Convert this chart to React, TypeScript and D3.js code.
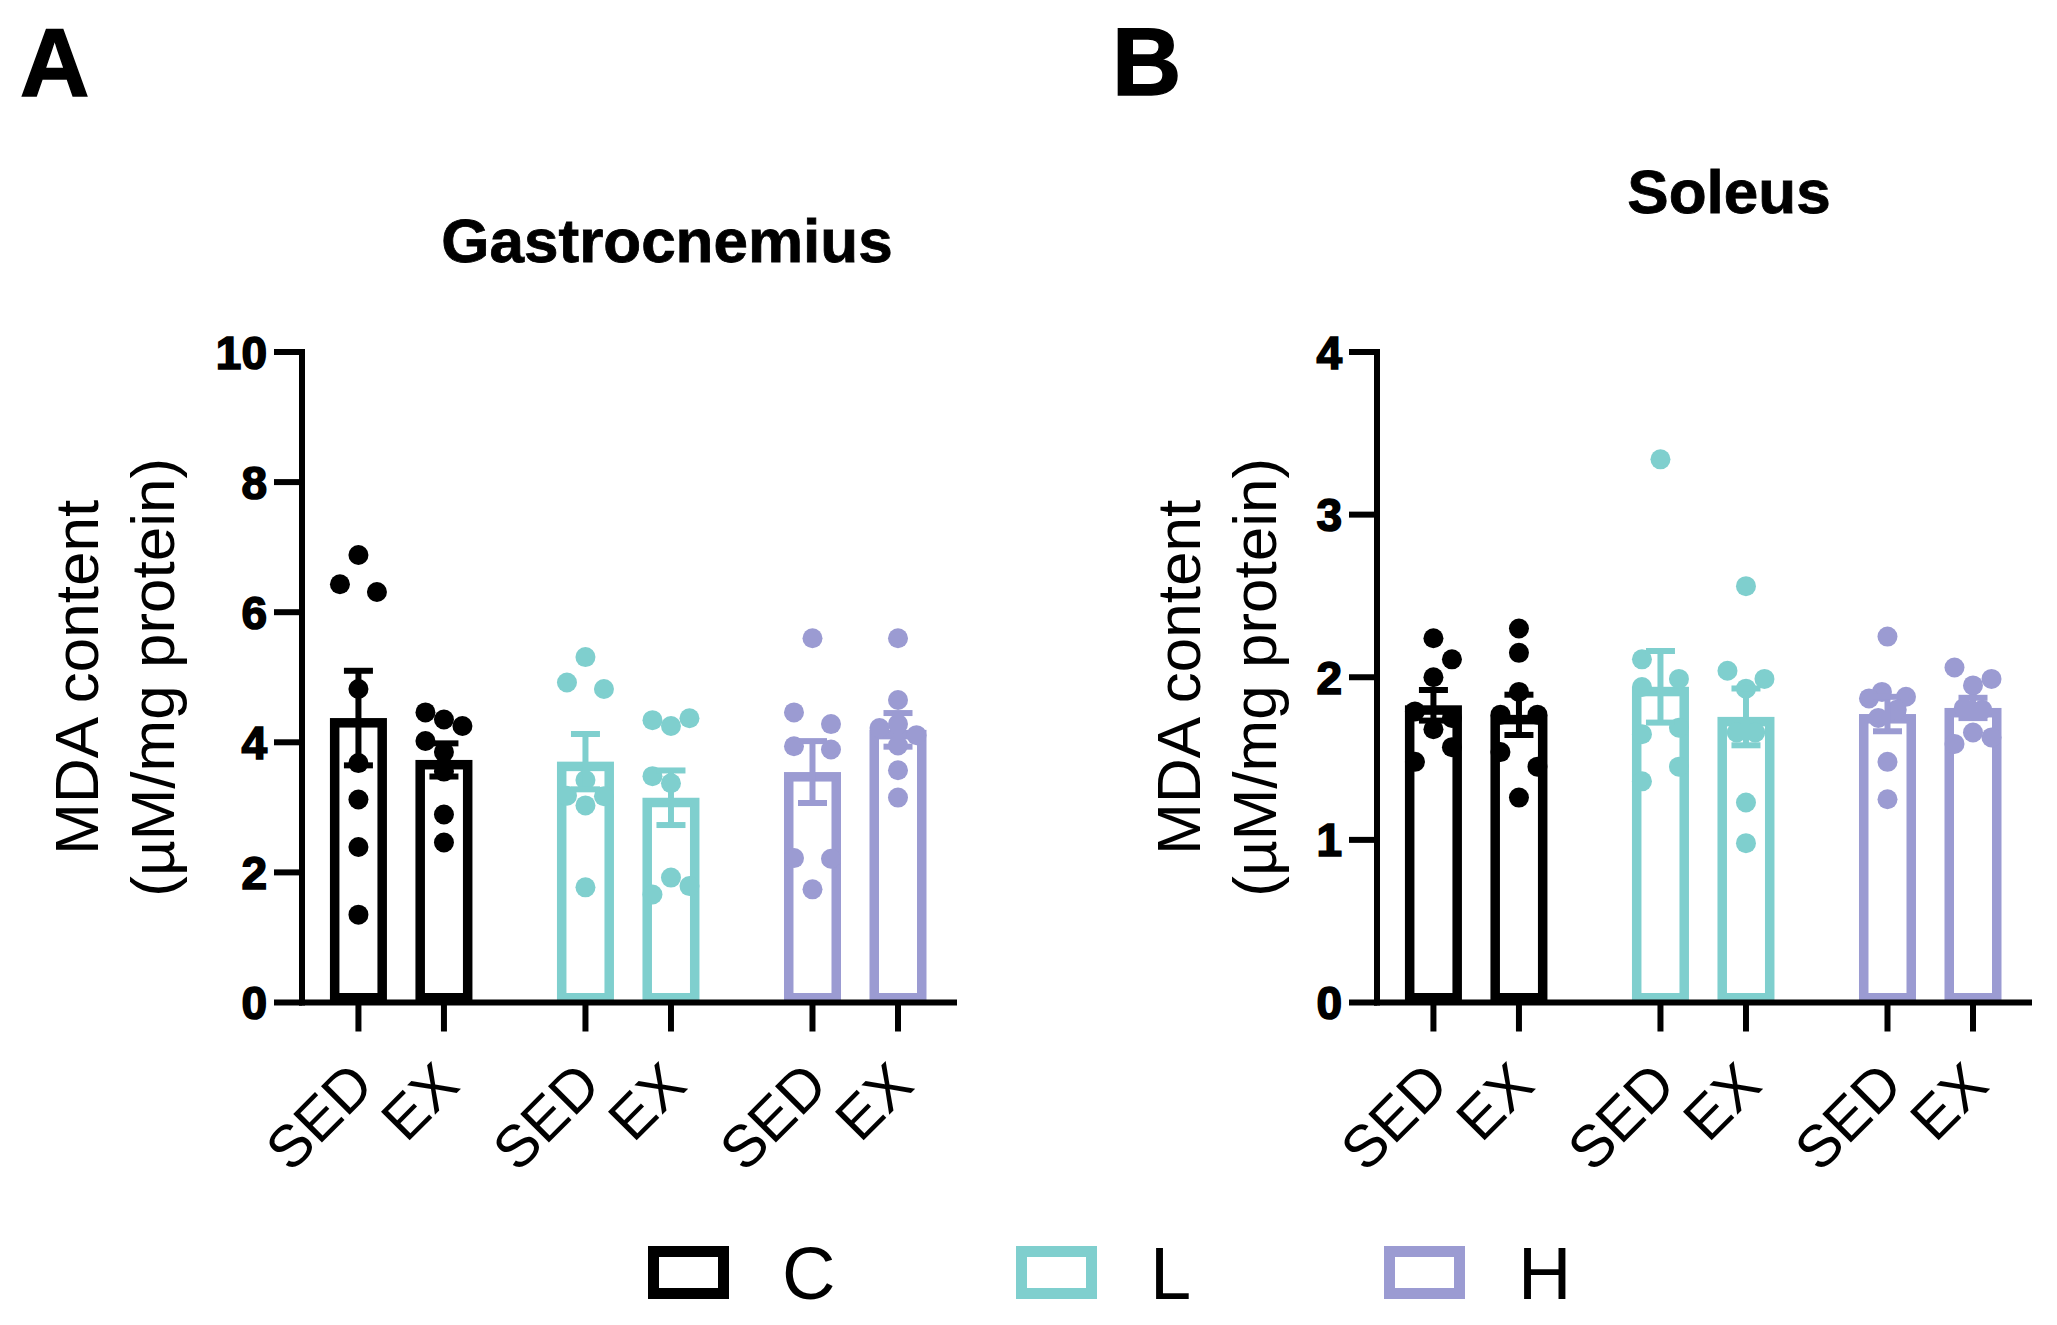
import React from "react";
import * as d3 from "d3";

const groupNames = ["C", "L", "H"];
const conditionNames = ["SED", "EX"];
const groupColors = ["#000000", "#7fcfce", "#9b9bd2"];

// order: C-SED, C-EX, L-SED, L-EX, H-SED, H-EX
const gastroValues = [
  [6.88, 6.43, 6.31, 4.82, 3.68, 3.12, 2.39, 1.35],
  [4.46, 4.35, 4.25, 4.02, 3.85, 3.55, 2.89, 2.46],
  [5.31, 4.92, 4.82, 3.42, 3.18, 3.17, 3.03, 1.77],
  [4.37, 4.34, 4.25, 3.48, 3.37, 1.92, 1.79, 1.66],
  [5.6, 4.46, 4.28, 3.94, 3.89, 2.22, 2.21, 1.74],
  [5.6, 4.65, 4.28, 4.22, 4.11, 3.95, 3.57, 3.15],
];
const gastroJitter = [
  [0, -1, 1, 0, 0, 0, 0, 0],
  [-1, 0, 1, -1, 0, 0, 0, 0],
  [0, -1, 1, 0, -1, 1, 0, 0],
  [1, -1, 0, -1, 0, 0, 1, -1],
  [0, -1, 1, -1, 1, -1, 1, 0],
  [0, 0, 0, -1, 1, 0, 0, 0],
];
const soleusValues = [
  [2.24, 2.11, 2.0, 1.79, 1.75, 1.68, 1.57, 1.48],
  [2.3, 2.15, 1.91, 1.77, 1.77, 1.54, 1.45, 1.26],
  [3.34, 2.11, 1.99, 1.94, 1.69, 1.65, 1.45, 1.36],
  [2.56, 2.04, 1.99, 1.93, 1.66, 1.66, 1.23, 0.98],
  [2.25, 1.91, 1.87, 1.88, 1.8, 1.75, 1.48, 1.25],
  [2.06, 1.99, 1.95, 1.81, 1.8, 1.66, 1.59, 1.63],
];
const soleusJitter = [
  [0, 1, 0, -1, 1, 0, 1, -1],
  [0, 0, 0, -1, 1, -1, 1, 0],
  [0, -1, 1, -1, 1, -1, 1, -1],
  [0, -1, 1, 0, -0.5, 0.5, 0, 0],
  [0, -0.3, -1, 1, 0.5, -0.5, 0, 0],
  [-1, 1, 0, -0.5, 0.5, 0, -1, 1],
];
const gastroTicks = [0, 2, 4, 6, 8, 10];
const soleusTicks = [0, 1, 2, 3, 4];

const FONT = "'Liberation Sans', Arial, Helvetica, sans-serif";

type PanelProps = {
  axisX: number;
  yMax: number;
  ticks: number[];
  values: number[][];
  jitter: number[][];
  title: string;
  titleX: number;
  titleY: number;
  labelX: number;
};

function Panel({ axisX, yMax, ticks, values, jitter, title, titleX, titleY, labelX }: PanelProps) {
  const x = d3.scaleLinear().domain([-0.66, 7.0]).range([axisX, axisX + 655]);
  const y = d3.scaleLinear().domain([0, yMax]).range([1002.5, 352]);
  const y0 = y(0);
  const barHalf = 28.5;
  const sw = 9.5;
  const step = 18.5;
  const labelY = (y(0) + y(yMax)) / 2;
  return (
    <g>
      <text x={titleX} y={titleY} fontFamily={FONT} fontWeight="bold" fontSize={62} textAnchor="middle" stroke="#000" strokeWidth={0.8}>
        {title}
      </text>
      <text
        transform={`translate(${labelX},${labelY}) rotate(-90)`}
        fontFamily={FONT}
        fontSize={62}
        textAnchor="middle"
      >
        MDA content
      </text>
      <text
        transform={`translate(${labelX + 76},${labelY}) rotate(-90)`}
        fontFamily={FONT}
        fontSize={62}
        textAnchor="middle"
      >
        (µM/mg protein)
      </text>
      {values.map((vals, i) => {
        const g = Math.floor(i / 2);
        const c = i % 2;
        const cx = x(g * 2.655 + c);
        const color = groupColors[g];
        const mean = d3.mean(vals) as number;
        const sem = (d3.deviation(vals) as number) / Math.sqrt(vals.length);
        const ym = y(mean);
        return (
          <g key={i}>
            <rect
              x={cx - barHalf + sw / 2}
              y={ym + sw / 2}
              width={barHalf * 2 - sw}
              height={y0 - ym - sw}
              fill="none"
              stroke={color}
              strokeWidth={sw}
            />
            {vals.map((v, j) => (
              <circle key={j} cx={cx + jitter[i][j] * step} cy={y(v)} r={10} fill={color} />
            ))}
            <line x1={cx} x2={cx} y1={y(mean - sem)} y2={y(mean + sem)} stroke={color} strokeWidth={6} />
            <line x1={cx - 14.5} x2={cx + 14.5} y1={y(mean + sem)} y2={y(mean + sem)} stroke={color} strokeWidth={6} />
            <line x1={cx - 14.5} x2={cx + 14.5} y1={y(mean - sem)} y2={y(mean - sem)} stroke={color} strokeWidth={6} />
            <line x1={cx} x2={cx} y1={y0} y2={y0 + 29} stroke="#000" strokeWidth={6} />
            <text
              transform={`translate(${cx + 18},${1088}) rotate(-45)`}
              fontFamily={FONT}
              fontSize={59}
              textAnchor="end"
            >
              {conditionNames[c]}
            </text>
          </g>
        );
      })}
      {/* axes */}
      <line x1={axisX} x2={axisX} y1={y(yMax) - 3} y2={y0 + 3} stroke="#000" strokeWidth={6} />
      <line x1={axisX - 3} x2={axisX + 655} y1={y0} y2={y0} stroke="#000" strokeWidth={6} />
      {ticks.map((t) => (
        <g key={t}>
          <line x1={axisX - 28} x2={axisX} y1={y(t)} y2={y(t)} stroke="#000" strokeWidth={6} />
          <text
            x={axisX - 35}
            y={y(t)}
            dy="0.36em"
            fontFamily={FONT}
            fontWeight="bold"
            fontSize={46}
            textAnchor="end"
            stroke="#000"
            strokeWidth={1.6}
          >
            {t}
          </text>
        </g>
      ))}
    </g>
  );
}

export default function App() {
  const legendX = d3.scaleLinear().domain([0, 2]).range([648, 1384]);
  return (
    <svg
      width={2057}
      height={1325}
      style={{ position: "absolute", left: 0, top: 0, display: "block", background: "#fff" }}
    >
      <rect width={2057} height={1325} fill="#fff" />
      <text x={20} y={96} fontFamily={FONT} fontWeight="bold" fontSize={96} stroke="#000" strokeWidth={1.5}>
        A
      </text>
      <text x={1112} y={95} fontFamily={FONT} fontWeight="bold" fontSize={96} stroke="#000" strokeWidth={1.5}>
        B
      </text>
      <Panel
        axisX={302}
        yMax={10}
        ticks={gastroTicks}
        values={gastroValues}
        jitter={gastroJitter}
        title="Gastrocnemius"
        titleX={667}
        titleY={262}
        labelX={98}
      />
      <Panel
        axisX={1377}
        yMax={4}
        ticks={soleusTicks}
        values={soleusValues}
        jitter={soleusJitter}
        title="Soleus"
        titleX={1729}
        titleY={213}
        labelX={1200}
      />
      {groupNames.map((name, i) => {
        const lx = legendX(i);
        return (
          <g key={name}>
            <rect x={lx + 5.5} y={1246 + 5.5} width={70} height={42} fill="none" stroke={groupColors[i]} strokeWidth={11} />
            <text x={lx + 134} y={1299} fontFamily={FONT} fontSize={74}>
              {name}
            </text>
          </g>
        );
      })}
    </svg>
  );
}
